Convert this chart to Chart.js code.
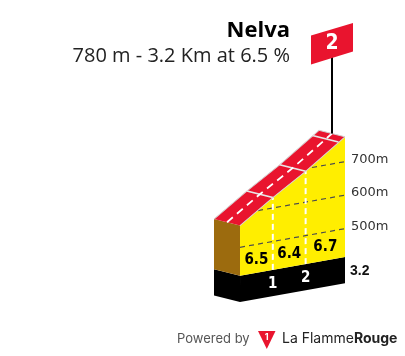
<!DOCTYPE html>
<html>
<head>
<meta charset="utf-8">
<script src="https://cdn.jsdelivr.net/npm/chart.js@4"></script>
<style>
    html, body { margin: 0; padding: 0; background: #fff; }
    #wrap { width: 405px; height: 356px; }
</style>
</head>
<body>
<div id="wrap"><canvas id="profile"></canvas></div>
<script>
// climb data
const TITLE = "Nelva"
const SUBTITLE = "780 m - 3.2 Km at 6.5 %"
const CATEGORY = "2"
const PROFILE_KM = [0, 1, 2, 3.2]
const PROFILE_ELEV = [565, 631, 692, 774]
const GRADES = [6.5, 6.4, 6.7]
const KM_MARKS = [1, 2, 3]
const MARK_ELEV = [631, 692, 762]
const KM_LABELS = ["1", "2"]
const Y_TICKS = [500, 600, 700]
const BASE_ELEV = 415
const FLOOR_ELEV = 337
const DISTANCE = 3.2

// drawing constants (projection, not data)
const SLOPE = 0.178          // oblique rise of the km axis
const DEPTH_KM = -0.792      // back edge offset in km
const DEPTH_M = 33.2         // back edge offset in m
const LABEL_SHIFT = 63       // right axis offset so labels sit at the skewed line ends
const Y_MIN = 330, Y_MAX = 830

const YELLOW = "#ffee00", RED = "#e9142e", BROWN = "#9c6b0e"

let profile = PROFILE_KM.map((km, i) => ({x: km, y: PROFILE_ELEV[i]}))
let back = p => ({x: p.x + DEPTH_KM, y: p.y + DEPTH_M})
let mid = p => ({x: p.x + DEPTH_KM / 2, y: p.y + DEPTH_M / 2})
let startTop = profile[0]
let lastKm = PROFILE_KM.at(-1)

let roadBand = [...profile, ...profile.slice().reverse().map(back)]
let brownSide = [{x: 0, y: BASE_ELEV}, startTop, back(startTop), back({x: 0, y: BASE_ELEV})]
let blackSide = [{x: 0, y: FLOOR_ELEV}, {x: 0, y: BASE_ELEV}, back({x: 0, y: BASE_ELEV}), back({x: 0, y: FLOOR_ELEV})]
let crossLines = KM_MARKS.flatMap((km, i) => {
    let p = {x: km, y: MARK_ELEV[i]}
    return [p, back(p), {x: km, y: null}]
})
let verticals = KM_LABELS.flatMap((label, i) => [
    {x: KM_MARKS[i], y: BASE_ELEV}, {x: KM_MARKS[i], y: MARK_ELEV[i]}, {x: KM_MARKS[i], y: null}
])

function shape(data, color, order, extra = {}) {
    return Object.assign({data: data, fill: "shape", backgroundColor: color, borderColor: "transparent",
        borderWidth: 0, order: order}, extra)
}

function line(data, color, width, dash, order) {
    return {data: data, fill: false, borderColor: color, borderWidth: width, borderDash: dash, order: order, spanGaps: false}
}

let datasets = [
    {data: [{x: 0, y: BASE_ELEV}, {x: DISTANCE, y: BASE_ELEV}], fill: {value: FLOOR_ELEV},
        backgroundColor: "#000", borderColor: "transparent", borderWidth: 0, order: 9},
    shape(blackSide, "#000", 8),
    shape(brownSide, BROWN, 7),
    {data: profile, fill: {value: BASE_ELEV}, backgroundColor: YELLOW, borderColor: "transparent", borderWidth: 0, order: 6},
    line(verticals, "#fff", 2, [6, 4], 5),
    shape(roadBand, RED, 4, {borderColor: "#d4d4d4", borderWidth: 1}),
    line(crossLines, "#e6e6e6", 1.5, [], 3),
    line(profile.map(mid), "#fff", 2, [7, 5], 2),
]
const YELLOW_INDEX = 3

function projector(chart) {
    let xs = chart.scales.x, ys = chart.scales.y
    let x0 = xs.getPixelForValue(0)
    return (km, elev) => {
        let px = xs.getPixelForValue(km)
        return {x: px, y: ys.getPixelForValue(elev) - SLOPE * (px - x0)}
    }
}

const obliquePlugin = {
    id: "oblique",
    beforeDatasetsDraw(chart) {
        let ctx = chart.ctx
        let x0 = chart.scales.x.getPixelForValue(0)
        ctx.save()
        ctx.transform(1, -SLOPE, 0, 1, 0, SLOPE * x0)
    },
    afterDatasetDraw(chart, args) {
        if (args.index !== YELLOW_INDEX) return
        // grid lines only on the yellow face
        let ctx = chart.ctx, xs = chart.scales.x, ys = chart.scales.y
        ctx.save()
        ctx.beginPath()
        ctx.moveTo(xs.getPixelForValue(0), ys.getPixelForValue(BASE_ELEV))
        profile.forEach(p => ctx.lineTo(xs.getPixelForValue(p.x), ys.getPixelForValue(p.y)))
        ctx.lineTo(xs.getPixelForValue(lastKm), ys.getPixelForValue(BASE_ELEV))
        ctx.closePath()
        ctx.clip()
        ctx.strokeStyle = "#4d4d4d"
        ctx.lineWidth = 1.2
        ctx.setLineDash([5, 4])
        Y_TICKS.forEach(v => {
            let y = ys.getPixelForValue(v)
            ctx.beginPath()
            ctx.moveTo(xs.getPixelForValue(0), y)
            ctx.lineTo(xs.getPixelForValue(lastKm), y)
            ctx.stroke()
        })
        ctx.restore()
    },
    afterDatasetsDraw(chart) {
        chart.ctx.restore()
    },
    afterDraw(chart) {
        let ctx = chart.ctx
        let proj = projector(chart)
        ctx.save()
        ctx.textAlign = "center"
        ctx.textBaseline = "middle"

        // gradient per km
        ctx.fillStyle = "#000"
        ctx.font = "bold 15px 'Liberation Sans Narrow', 'DejaVu Sans Condensed', Roboto, sans-serif"
        GRADES.forEach((g, i) => {
            let p = proj((PROFILE_KM[i] + PROFILE_KM[i + 1]) / 2, BASE_ELEV + 42)
            ctx.fillText(g.toFixed(1), p.x, p.y + 1)
        })

        // km numbers in the base
        ctx.fillStyle = "#fff"
        KM_LABELS.forEach((label, i) => {
            let p = proj(KM_MARKS[i], (BASE_ELEV + FLOOR_ELEV) / 2)
            ctx.fillText(label, p.x, p.y + 1)
        })

        // total distance
        let d = proj(DISTANCE, (BASE_ELEV + FLOOR_ELEV) / 2)
        ctx.textAlign = "left"
        ctx.fillStyle = "#111"
        ctx.font = "bold 14px 'Liberation Sans', Arial, sans-serif"
        ctx.fillText(String(DISTANCE), d.x + 5, d.y + 1)

        // summit flag
        let top = profile.at(-1)
        let pole = proj(top.x + DEPTH_KM / 2, top.y + DEPTH_M / 2)
        let flagBottom = pole.y - 77
        ctx.strokeStyle = "#000"
        ctx.lineWidth = 2
        ctx.beginPath()
        ctx.moveTo(pole.x, pole.y)
        ctx.lineTo(pole.x, flagBottom)
        ctx.stroke()
        ctx.fillStyle = RED
        ctx.beginPath()
        ctx.moveTo(pole.x - 21, flagBottom + 8)
        ctx.lineTo(pole.x - 21, flagBottom - 21)
        ctx.lineTo(pole.x + 21, flagBottom - 33.5)
        ctx.lineTo(pole.x + 21, flagBottom - 5)
        ctx.closePath()
        ctx.fill()
        ctx.fillStyle = "#fff"
        ctx.textAlign = "center"
        ctx.font = "bold 21px 'Liberation Sans Narrow', 'DejaVu Sans Condensed', Roboto, sans-serif"
        ctx.fillText(CATEGORY, pole.x, flagBottom - 13)

        // title
        ctx.textAlign = "right"
        ctx.textBaseline = "alphabetic"
        ctx.fillStyle = "#000"
        ctx.font = "bold 22px 'Open Sans', 'Noto Sans', sans-serif"
        ctx.fillText(TITLE, 290, 37)
        ctx.fillStyle = "#222"
        ctx.font = "20px 'Open Sans', 'Noto Sans', sans-serif"
        ctx.fillText(SUBTITLE, 290, 62)

        // footer
        ctx.textAlign = "left"
        ctx.textBaseline = "middle"
        ctx.fillStyle = "#555"
        ctx.font = "13px Inter, Roboto, sans-serif"
        ctx.fillText("Powered by", 177, 339)
        ctx.fillStyle = RED
        ctx.beginPath()
        ctx.moveTo(258, 331)
        ctx.lineTo(275.5, 331)
        ctx.lineTo(266.8, 349)
        ctx.closePath()
        ctx.fill()
        ctx.fillStyle = "#fff"
        ctx.textAlign = "center"
        ctx.font = "bold 9px Inter, Roboto, sans-serif"
        ctx.fillText("1", 266.8, 337)
        ctx.textAlign = "left"
        ctx.fillStyle = "#222"
        ctx.font = "14px Inter, Roboto, sans-serif"
        ctx.fillText("La Flamme", 282, 339)
        let w = ctx.measureText("La Flamme").width
        ctx.font = "bold 14px Inter, Roboto, sans-serif"
        ctx.fillText("Rouge", 282 + w, 339)
        ctx.restore()
    }
}

new Chart(document.getElementById("profile"), {
    type: "line",
    data: {datasets: datasets},
    options: {
        responsive: true,
        maintainAspectRatio: false,
        animation: false,
        events: [],
        layout: {padding: {left: 207.2, right: 0, top: 136.75, bottom: 51.75}},
        elements: {
            point: {radius: 0, hoverRadius: 0},
            line: {tension: 0}
        },
        plugins: {
            legend: {display: false},
            tooltip: {enabled: false},
            filler: {propagate: false}
        },
        scales: {
            x: {type: "linear", min: -1, max: DISTANCE, display: false},
            y: {type: "linear", min: Y_MIN, max: Y_MAX, display: false},
            y2: {
                type: "linear",
                position: "right",
                min: Y_MIN - LABEL_SHIFT,
                max: Y_MAX - LABEL_SHIFT,
                grid: {display: false, drawTicks: false},
                border: {display: false},
                afterFit: scale => { scale.width = 60 },
                afterBuildTicks: scale => { scale.ticks = Y_TICKS.map(v => ({value: v})) },
                ticks: {
                    padding: 6,
                    color: "#333",
                    font: {family: "'DejaVu Sans', Verdana, sans-serif", size: 13},
                    callback: v => `${v}m`
                }
            }
        }
    },
    plugins: [obliquePlugin]
})
</script>
</body>
</html>
